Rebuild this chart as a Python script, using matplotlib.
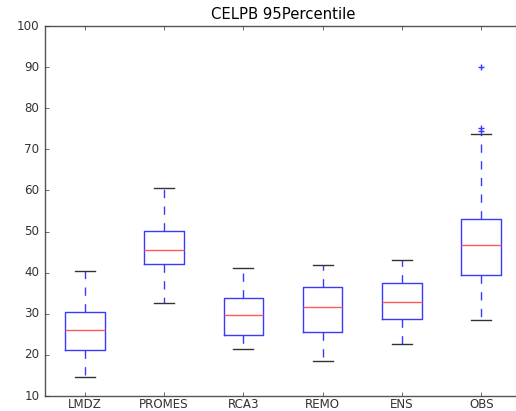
import matplotlib
matplotlib.use("Agg")
import matplotlib.pyplot as plt

# box statistics
models = ["LMDZ", "PROMES", "RCA3", "REMO", "ENS", "OBS"]
whisker_low = [14.6, 32.6, 21.4, 18.6, 22.7, 28.6]
q1 = [21.1, 42.2, 24.8, 25.5, 28.7, 39.5]
median = [26.0, 45.4, 29.8, 31.6, 32.9, 46.7]
q3 = [30.4, 50.2, 33.8, 36.4, 37.4, 53.1]
whisker_high = [40.5, 60.5, 41.1, 41.9, 43.2, 73.7]
outliers = [[], [], [], [], [], [74.4, 75.1, 90.1]]

plt.style.use("classic")
plt.rcParams["font.size"] = 8.6

stats = []
for i, name in enumerate(models):
    stats.append({"label": name, "whislo": whisker_low[i], "q1": q1[i],
                  "med": median[i], "q3": q3[i], "whishi": whisker_high[i],
                  "fliers": outliers[i]})

fig = plt.figure(figsize=(5.16, 4.11), dpi=100, facecolor="white")
# the original image is cropped on the right, so the axes run past the edge
ax = fig.add_axes([45 / 516, 15 / 411, 476 / 516, 370 / 411])
ax.bxp(stats, widths=0.5,
       boxprops=dict(color="#3a3aff", linewidth=1.0),
       whiskerprops=dict(color="#3a3aff", linestyle="--", linewidth=1.0),
       capprops=dict(color="#333333", linewidth=1.0),
       medianprops=dict(color="#ff5a5a", linewidth=1.0),
       flierprops=dict(marker="+", markeredgecolor="#3a3aff", markersize=5))
ax.set_ylim(10, 100)
ax.set_xlim(0.5, 6.5)
ax.set_title("CELPB 95Percentile", fontsize=10.7)
ax.tick_params(length=3, colors="#333333")
ax.tick_params(axis="x", pad=1.5)
for s in ax.spines.values():
    s.set_color("#555555")

fig.savefig("out.png", dpi=100, facecolor="white")
